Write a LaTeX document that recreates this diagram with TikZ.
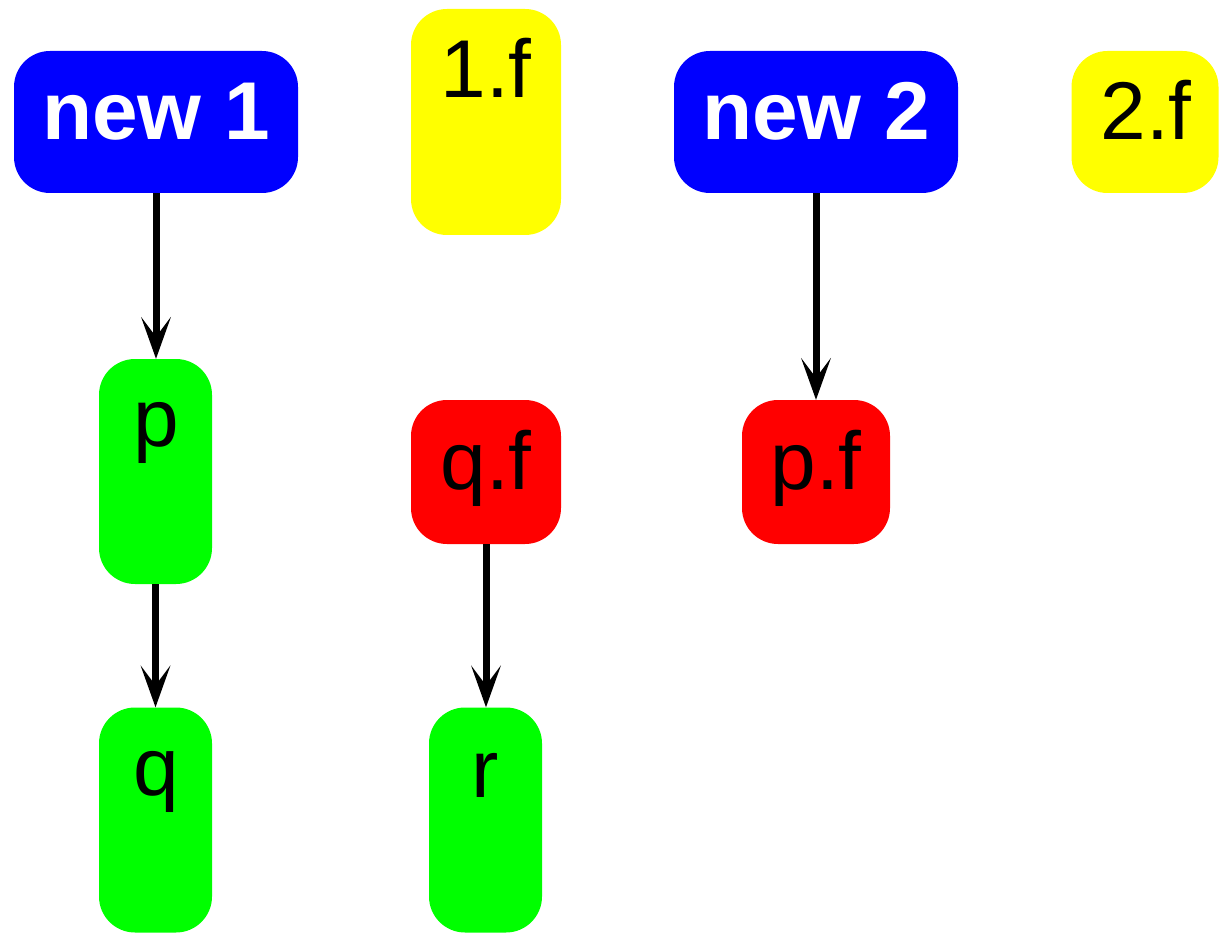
\documentclass[tikz,border=0pt]{standalone}
\usepackage{fontspec}
\setmainfont{Liberation Sans}
\usetikzlibrary{arrows.meta}
\definecolor{boxblue}{RGB}{0,0,255}
\definecolor{boxyellow}{RGB}{255,255,0}
\definecolor{boxgreen}{RGB}{0,255,0}
\definecolor{boxred}{RGB}{255,0,0}
\begin{document}
\begin{tikzpicture}[x=1pt,y=-1pt,
  box/.style={rectangle, rounded corners=36pt, inner sep=0pt, draw=none},
  newbox/.style={box, fill=boxblue, minimum width=284pt, minimum height=142pt},
  fbox/.style={box, fill=boxyellow},
  refbox/.style={box, fill=boxred, minimum height=144pt},
  objbox/.style={box, fill=boxgreen, minimum width=113pt, minimum height=225pt},
  lbl/.style={anchor=base, inner sep=0pt, font=\fontsize{82}{90}\selectfont},
  newlbl/.style={lbl, text=white, font=\fontsize{82}{90}\selectfont\bfseries},
  arr/.style={line width=7pt, -{Stealth[length=42pt,width=30pt,inset=20pt,line width=0pt]}}]
\useasboundingbox (0,0) rectangle (1228,933);

% boxes
\node[newbox] (new1) at (156,122) {};
\node[fbox, minimum width=150pt, minimum height=226pt] (f1) at (486,122) {};
\node[newbox] (new2) at (816,122) {};
\node[fbox, minimum width=147pt, minimum height=142pt] (f2) at (1145,122) {};
\node[objbox] (p) at (155.5,471.5) {};
\node[refbox, minimum width=150pt] (qf) at (486,472) {};
\node[refbox, minimum width=148pt] (pf) at (816,472) {};
\node[objbox] (q) at (155.5,820) {};
\node[objbox] (r) at (485.5,820) {};

% labels
\node[newlbl] (tnew1) at (156,140) {new 1};
\node[lbl] (tf1) at (486,98) {1.f};
\node[newlbl] (tnew2) at (816,140) {new 2};
\node[lbl] (tf2) at (1146,140) {2.f};
\node[lbl] (tp) at (156,446) {p};
\node[lbl] (tqf) at (486,489) {q.f};
\node[lbl] (tpf) at (816,489) {p.f};
\node[lbl] (tq) at (156,795) {q};
\node[lbl] (tr) at (485,797) {r};

% connectors
\draw[arr] (new1.south) -- (new1.south |- p.north);
\draw[arr] (p.south) -- (q.north);
\draw[arr] (qf.south) -- (qf.south |- r.north);
\draw[arr] (new2.south) -- (pf.north);
\end{tikzpicture}
\end{document}
